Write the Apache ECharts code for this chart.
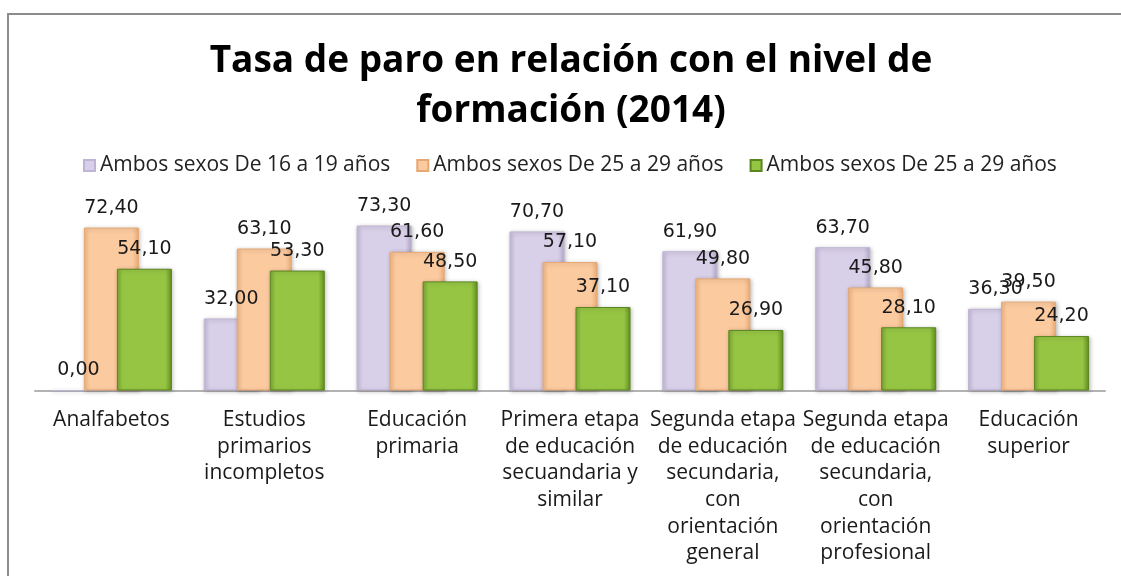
<!DOCTYPE html>
<html>
<head>
<meta charset="utf-8">
<script src="https://cdn.jsdelivr.net/npm/echarts@6/dist/echarts.min.js"></script>
<style>
  html, body { margin: 0; padding: 0; background: #fff; }
  #chart { width: 1121px; height: 576px; }
</style>
</head>
<body>
<div id="chart"></div>
<script>
const titleText = 'Tasa de paro en relación con el nivel de\nformación (2014)';
const categories = [
  'Analfabetos',
  'Estudios\nprimarios\nincompletos',
  'Educación\nprimaria',
  'Primera etapa\nde educación\nsecuandaria y\nsimilar',
  'Segunda etapa\nde educación\nsecundaria,\ncon\norientación\ngeneral',
  'Segunda etapa\nde educación\nsecundaria,\ncon\norientación\nprofesional',
  'Educación\nsuperior'
];
const seriesNames = [
  'Ambos sexos De 16 a 19 años',
  'Ambos sexos De 25 a 29 años',
  'Ambos sexos De 25 a 29 años '
];
const values16to19 = [0.00, 32.00, 73.30, 70.70, 61.90, 63.70, 36.30];
const values25to29a = [72.40, 63.10, 61.60, 57.10, 49.80, 45.80, 39.50];
const values25to29b = [54.10, 53.30, 48.50, 37.10, 26.90, 28.10, 24.20];

function hGrad(edgeL, mid, edgeR) {
  return new echarts.graphic.LinearGradient(0, 0, 1, 0, [
    { offset: 0, color: edgeL },
    { offset: 0.1, color: mid },
    { offset: 0.88, color: mid },
    { offset: 1, color: edgeR }
  ]);
}
const styles = [
  { color: hGrad('#c7bcdb', '#d8cfe8', '#b6aacb'), borderColor: '#bfb4d3' },
  { color: hGrad('#f3b985', '#fcca9f', '#eeb07a'), borderColor: '#e6a873' },
  { color: hGrad('#7aa832', '#96c544', '#64901f'), borderColor: '#5a861f' }
];

const labelStyle = {
  show: true,
  position: 'top',
  distance: 10,
  fontFamily: 'DejaVu Sans',
  fontSize: 19,
  color: '#1a1a1a',
  formatter: p => p.value.toFixed(2).replace('.', ',')
};

const seriesData = [values16to19, values25to29a, values25to29b];
const series = seriesData.map((d, i) => ({
  name: seriesNames[i],
  type: 'bar',
  data: d,
  barWidth: 55,
  barGap: '-40%',
  itemStyle: Object.assign({
    borderWidth: 1,
    shadowBlur: 4,
    shadowColor: 'rgba(0,0,0,0.25)',
    shadowOffsetX: 1,
    shadowOffsetY: 1
  }, styles[i]),
  label: labelStyle,
  labelLayout: { hideOverlap: false }
}));

const chart = echarts.init(document.getElementById('chart'), null, { renderer: 'canvas' });
chart.setOption({
  animation: false,
  backgroundColor: '#ffffff',
  title: {
    text: titleText,
    left: 571,
    top: 36,
    padding: 0,
    textAlign: 'center',
    textStyle: {
      fontFamily: 'Open Sans',
      fontWeight: 'bold',
      fontSize: 37,
      lineHeight: 50,
      color: '#000000'
    }
  },
  legend: {
    left: 83,
    top: 155,
    padding: 0,
    itemWidth: 11,
    itemHeight: 11,
    itemGap: 26,
    icon: 'rect',
    data: seriesNames,
    textStyle: {
      fontFamily: 'Open Sans',
      fontSize: 21,
      color: '#222222'
    }
  },
  grid: {
    left: 35,
    right: 16,
    top: 210.5,
    bottom: 185.5,
    containLabel: false
  },
  xAxis: {
    type: 'category',
    data: categories,
    axisLine: { show: true, lineStyle: { color: '#b3b3b3', width: 2 } },
    axisTick: { show: false },
    axisLabel: {
      interval: 0,
      margin: 16,
      fontFamily: 'Open Sans',
      fontSize: 21,
      lineHeight: 26.7,
      color: '#1a1a1a',
      align: 'center'
    }
  },
  yAxis: {
    type: 'value',
    min: 0,
    max: 80,
    show: false,
    splitLine: { show: false }
  },
  graphic: [
    { type: 'line', shape: { x1: 8, y1: 14, x2: 1121, y2: 14 }, style: { stroke: '#8c8c8c', lineWidth: 2 } },
    { type: 'line', shape: { x1: 8, y1: 13, x2: 8, y2: 576 }, style: { stroke: '#8c8c8c', lineWidth: 2 } }
  ],
  series: series
});
</script>
</body>
</html>
